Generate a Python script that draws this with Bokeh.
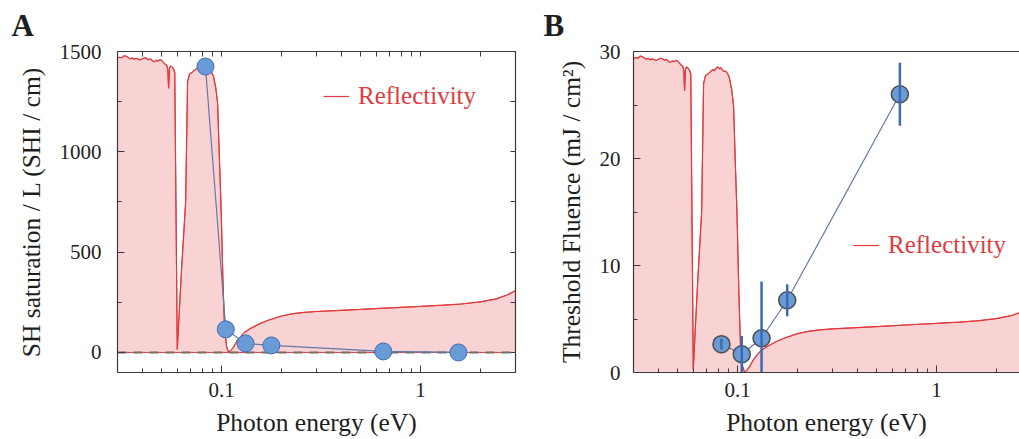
from bokeh.plotting import figure
from bokeh.layouts import row
from bokeh.models import (FixedTicker, LogAxis, LinearAxis, Legend, LegendItem,
                          CustomJSTickFormatter)
from bokeh.embed import file_html
from bokeh.resources import INLINE

# Normalised reflectivity spectrum vs photon energy (eV)
refl_energy = [
    0.0300, 0.0308, 0.0316, 0.0324, 0.0332, 0.0340, 0.0348, 0.0356, 0.0364, 0.0372,
    0.0380, 0.0390, 0.0400, 0.0410, 0.0420, 0.0430, 0.0440, 0.0450, 0.0460, 0.0470,
    0.0480, 0.0490, 0.0500, 0.0510, 0.0520, 0.0530, 0.0537, 0.0542, 0.0547, 0.0555,
    0.0565, 0.0575, 0.0582, 0.0590, 0.0599, 0.0630, 0.0660, 0.0675, 0.0690, 0.0710,
    0.0730, 0.0750, 0.0765, 0.0780, 0.0795, 0.0810, 0.0825, 0.0840, 0.0855, 0.0870,
    0.0890, 0.0910, 0.0935, 0.0955, 0.0975, 0.0995, 0.1015, 0.1035, 0.1060, 0.1085,
    0.1110, 0.1150, 0.1200, 0.1300, 0.1400, 0.1550, 0.1700, 0.2000, 0.2300, 0.2600,
    0.3000, 0.4000, 0.5000, 0.7000, 1.0000, 1.3000, 1.6000, 2.0000, 2.4000, 2.7000,
    3.0000,
]
refl_value = [
    0.978, 0.981, 0.979, 0.986, 0.984, 0.980, 0.976, 0.978, 0.974, 0.977,
    0.975, 0.972, 0.976, 0.979, 0.977, 0.973, 0.975, 0.969, 0.966, 0.971,
    0.968, 0.973, 0.970, 0.964, 0.958, 0.955, 0.940, 0.878, 0.945, 0.952,
    0.948, 0.940, 0.930, 0.500, 0.010, 0.280, 0.500, 0.900, 0.925, 0.930,
    0.937, 0.944, 0.940, 0.948, 0.952, 0.946, 0.950, 0.942, 0.938, 0.939,
    0.932, 0.918, 0.880, 0.830, 0.650, 0.480, 0.250, 0.080, 0.020, 0.000,
    0.006, 0.018, 0.040, 0.066, 0.080, 0.095, 0.106, 0.121, 0.129, 0.133,
    0.136, 0.140, 0.143, 0.148, 0.153, 0.157, 0.161, 0.168, 0.178, 0.190,
    0.205,
]

# Panel A: SH saturation per unit length (SHI/cm)
sat_energy = [0.083, 0.105, 0.132, 0.178, 0.65, 1.55]
sat_value = [1425, 115, 45, 35, 5, 0]

# Panel B: threshold fluence (mJ/cm^2) with uncertainties
thr_energy = [0.083, 0.105, 0.132, 0.1776, 0.654]
thr_value = [2.65, 1.7, 3.2, 6.75, 26.0]
thr_error = [0.5, 1.7, 5.3, 1.5, 2.95]

x_major = [0.1, 1]
x_minor = [0.04, 0.05, 0.06, 0.07, 0.08, 0.09,
           0.2, 0.3, 0.4, 0.5, 0.6, 0.7, 0.8, 0.9, 2, 3]
ya_major = [0, 500, 1000, 1500]
ya_minor = [250, 750, 1250]
yb_major = [0, 10, 20, 30]
yb_minor = [5, 15, 25]

RED = "#e23a3c"
PINK = "#f9d2d4"
MARK_FILL = "#6b9bd6"
LINK = "#6478a8"
AXIS = "#3a3a3a"
TEXT = "#1e1e1e"
SERIF = "Liberation Serif"

fmt = CustomJSTickFormatter(code="return String(tick)")


def style_axis(ax):
    ax.axis_line_color = AXIS
    ax.axis_line_width = 1.2
    ax.major_tick_line_color = AXIS
    ax.minor_tick_line_color = AXIS
    ax.major_tick_in = 7
    ax.major_tick_out = 0
    ax.minor_tick_in = 4
    ax.minor_tick_out = 0
    ax.major_label_text_font = SERIF
    ax.major_label_text_color = TEXT
    ax.major_label_text_font_size = "21px"
    ax.axis_label_text_font = SERIF
    ax.axis_label_text_font_style = "normal"
    ax.axis_label_text_color = TEXT
    ax.axis_label_text_font_size = "25.5px"


def frame_axis(kind, ticks):
    # unlabelled mirror axis: every tick is drawn as a short inward mark
    ax = kind(ticker=FixedTicker(ticks=[], minor_ticks=ticks))
    ax.axis_line_color = AXIS
    ax.axis_line_width = 1.2
    ax.minor_tick_line_color = AXIS
    ax.minor_tick_in = 5
    ax.minor_tick_out = 0
    ax.major_tick_in = 0
    ax.major_tick_out = 0
    ax.major_label_standoff = 0
    return ax


def scaled(values, factor):
    return [v * factor for v in values]


def refl_patch(p, factor):
    xs = refl_energy + [refl_energy[-1], refl_energy[0]]
    ys = scaled(refl_value, factor) + [0, 0]
    p.patch(xs, ys, fill_color=PINK, line_color=RED, line_width=1)
    return p.line(refl_energy, scaled(refl_value, factor), line_color=RED, line_width=1.2)


def add_legend(p, renderer, loc):
    leg = Legend(items=[LegendItem(label="Reflectivity", renderers=[renderer])],
                 location=loc, glyph_width=26, glyph_height=20,
                 label_standoff=9, padding=0, margin=0, border_line_color=None,
                 background_fill_alpha=0, label_text_font=SERIF,
                 label_text_font_size="25px", label_text_color=RED, label_height=20)
    p.add_layout(leg)


def panel_letter(p, offset):
    p.title.text_font = SERIF
    p.title.text_font_size = "31px"
    p.title.text_font_style = "bold"
    p.title.text_color = TEXT
    p.title.align = "left"
    p.title.vertical_align = "top"
    p.title.offset = offset
    p.title.standoff = 14


# ---------------- Panel A ----------------
pA = figure(width=520, height=439, x_axis_type="log", x_range=(0.03, 3),
            y_range=(-100, 1500), output_backend="svg", toolbar_location=None,
            min_border_left=117, min_border_right=5, min_border_top=51,
            min_border_bottom=67, outline_line_color=None, title="A")
pA.xgrid.visible = False
pA.ygrid.visible = False

lineA = refl_patch(pA, 1500)
pA.hspan(y=[0], line_color="#6e6e6e", line_width=1.8, line_dash="9 7")
pA.line(sat_energy, sat_value, line_color=LINK, line_width=1.2)
pA.scatter(sat_energy, sat_value, size=17, fill_color=MARK_FILL,
           line_color="#3c6cb4", line_width=1)

pA.xaxis.ticker = FixedTicker(ticks=x_major, minor_ticks=x_minor)
pA.xaxis.formatter = fmt
pA.yaxis.ticker = FixedTicker(ticks=ya_major, minor_ticks=ya_minor)
pA.xaxis.axis_label = "Photon energy (eV)"
pA.yaxis.axis_label = "SH saturation / L (SHI / cm)"
for ax in pA.xaxis + pA.yaxis:
    style_axis(ax)
pA.xaxis.major_label_standoff = 10
pA.xaxis.axis_label_standoff = 8
pA.yaxis.major_label_standoff = 16
pA.yaxis.axis_label_standoff = 11

pA.add_layout(frame_axis(LogAxis, x_major + x_minor), "above")
pA.add_layout(frame_axis(LinearAxis, ya_major + ya_minor), "right")

add_legend(pA, lineA, (206, 262))
panel_letter(pA, -106)

# ---------------- Panel B ----------------
pB = figure(width=499, height=439, x_axis_type="log", x_range=(0.03, 2.61),
            y_range=(0, 30), output_backend="svg", toolbar_location=None,
            min_border_left=113, min_border_right=0, min_border_top=51,
            min_border_bottom=67, outline_line_color=None, title="B")
pB.xgrid.visible = False
pB.ygrid.visible = False

lineB = refl_patch(pB, 30)
pB.line(thr_energy, thr_value, line_color=LINK, line_width=1.2)
pB.scatter(thr_energy, thr_value, size=17, fill_color=MARK_FILL,
           line_color="#4d4d4d", line_width=1.5)
pB.segment(x0=thr_energy, y0=[v - e for v, e in zip(thr_value, thr_error)],
           x1=thr_energy, y1=[v + e for v, e in zip(thr_value, thr_error)],
           line_color="#3b6cb3", line_width=2.5)

pB.xaxis.ticker = FixedTicker(ticks=x_major, minor_ticks=x_minor)
pB.xaxis.formatter = fmt
pB.yaxis.ticker = FixedTicker(ticks=yb_major, minor_ticks=yb_minor)
pB.xaxis.axis_label = "Photon energy (eV)"
pB.yaxis.axis_label = "Threshold Fluence (mJ / cm²)"
for ax in pB.xaxis + pB.yaxis:
    style_axis(ax)
pB.xaxis.major_label_standoff = 10
pB.xaxis.axis_label_standoff = 8
pB.yaxis.major_label_standoff = 13
pB.yaxis.axis_label_standoff = 11

pB.add_layout(frame_axis(LogAxis, []), "above")

add_legend(pB, lineB, (220, 113))
panel_letter(pB, -90)

layout = row(pA, pB, spacing=0)
open("out.html", "w").write(file_html(layout, INLINE))
